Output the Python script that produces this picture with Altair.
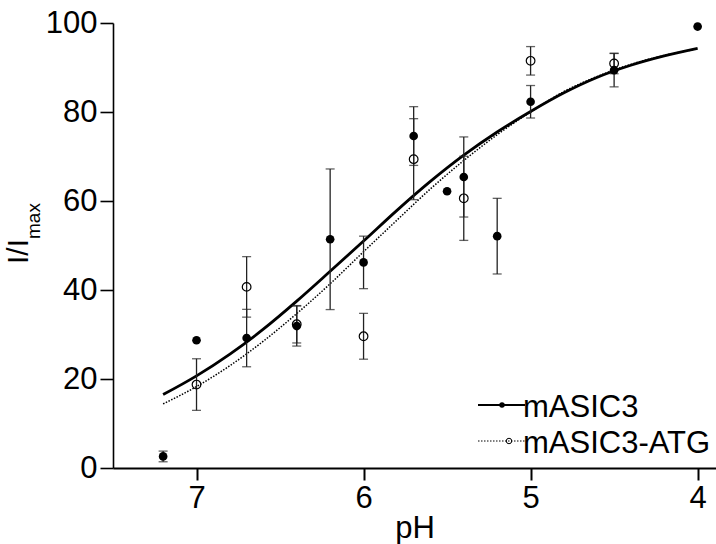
import altair as alt
import pandas as pd

FONT = "Liberation Sans"

# ---- data ----
ph_filled = [7.2, 7.0, 6.7, 6.4, 6.2, 6.0, 5.7, 5.5, 5.4, 5.2, 5.0, 4.5, 4.0]
val_filled = [2.6, 28.7, 29.2, 31.9, 51.4, 46.2, 74.6, 62.2, 65.4, 52.1, 82.3, 89.4, 99.2]
err_filled = [1.2, 0, 6.45, 4.5, 15.8, 5.9, 6.6, 0, 9.0, 8.5, 3.65, 3.75, 0]

ph_open = [7.0, 6.7, 6.4, 6.0, 5.7, 5.4, 5.0, 4.5]
val_open = [18.75, 40.7, 32.3, 29.6, 69.4, 60.6, 91.5, 90.9]
err_open = [5.8, 6.8, 4.2, 5.15, 9.1, 9.45, 3.2, 2.3]

ph_curve = [7.2, 7.0, 6.8, 6.6, 6.4, 6.2, 6.0, 5.8, 5.6, 5.4, 5.2, 5.0, 4.8, 4.6, 4.4, 4.2, 4.0]
fit_mASIC3 = [16.5, 20.7, 25.6, 31.2, 37.5, 44.2, 51.0, 57.9, 64.4, 70.3, 75.5, 80.1, 84.3, 87.8, 90.5, 92.6, 94.3]
fit_ATG = [14.4, 18.3, 23.0, 28.5, 34.7, 41.4, 48.6, 55.7, 62.7, 69.1, 74.9, 80.0, 84.6, 88.0, 90.7, 92.7, 94.2]

series_labels = ["mASIC3", "mASIC3-ATG"]
x_ticks = [7, 6, 5, 4]
y_ticks = [0, 20, 40, 60, 80, 100]

# ---- tables ----
filled = pd.DataFrame({"pH": ph_filled, "v": val_filled, "e": err_filled})
opn = pd.DataFrame({"pH": ph_open, "v": val_open, "e": err_open})
curves = pd.DataFrame({"pH": ph_curve, "a": fit_mASIC3, "b": fit_ATG})

def err_table(df):
    d = df[df["e"] > 0].copy()
    d["lo"] = d["v"] - d["e"]
    d["hi"] = d["v"] + d["e"]
    return d

err_all = pd.concat([err_table(filled), err_table(opn)], ignore_index=True)
caps = pd.concat([
    pd.DataFrame({"pH": err_all["pH"], "c": err_all["lo"]}),
    pd.DataFrame({"pH": err_all["pH"], "c": err_all["hi"]}),
], ignore_index=True)

xs = alt.Scale(domain=[3.89, 7.5], reverse=True, nice=False, zero=False)
ys = alt.Scale(domain=[0, 100], nice=False, zero=True)

xaxis = alt.Axis(values=x_ticks, format="d", title="pH", grid=False,
                 labelFont=FONT, labelFontSize=31, labelColor="black", labelPadding=3,
                 titleFont=FONT, titleFontSize=31, titleFontWeight="normal", titleColor="black",
                 titlePadding=0, tickSize=12, tickWidth=2, tickColor="black",
                 domainWidth=2, domainColor="black")
yaxis = alt.Axis(values=y_ticks, format="d", title=None, grid=False,
                 labelFont=FONT, labelFontSize=31, labelColor="black", labelPadding=3,
                 tickSize=13, tickWidth=1.6, tickColor="black",
                 domainWidth=1.6, domainColor="black")

def X(f):
    return alt.X(f, type="quantitative", scale=xs, axis=xaxis)

def Y(f):
    return alt.Y(f, type="quantitative", scale=ys, axis=yaxis)

line_a = alt.Chart(curves).mark_line(color="black", strokeWidth=2.8, interpolate="monotone").encode(
    x=X("pH"), y=Y("a"))
line_b = alt.Chart(curves).mark_line(color="black", strokeWidth=1.5, strokeDash=[1.5, 1.5],
                                     interpolate="monotone").encode(x=X("pH"), y=Y("b"))

err_rules = alt.Chart(err_all).mark_rule(color="#222222", strokeWidth=1.3).encode(
    x=X("pH"), y=Y("lo"), y2="hi")
err_caps = alt.Chart(caps).mark_tick(orient="horizontal", size=9, thickness=1.3, color="#222222").encode(
    x=X("pH"), y=Y("c"))

pts_open = alt.Chart(opn).mark_point(shape="circle", filled=False, size=75, strokeWidth=1.2,
                                     color="black", opacity=1).encode(x=X("pH"), y=Y("v"))
pts_filled = alt.Chart(filled).mark_circle(size=75, color="black", opacity=1).encode(
    x=X("pH"), y=Y("v"))

one = pd.DataFrame({"k": [0]})

# legend (drawn by hand)
leg_rule1 = alt.Chart(one).mark_rule(color="black", strokeWidth=2).encode(
    x=alt.value(365), x2=alt.value(412), y=alt.value(382))
leg_dot1 = alt.Chart(one).mark_circle(size=30, color="black", opacity=1).encode(
    x=alt.value(389), y=alt.value(382))
leg_txt1 = alt.Chart(one).mark_text(align="left", baseline="alphabetic", font=FONT, fontSize=31,
                                    color="black").encode(
    x=alt.value(410), y=alt.value(394), text=alt.value(series_labels[0]))
leg_rule2 = alt.Chart(one).mark_rule(color="black", strokeWidth=1.2, strokeDash=[1.5, 1.5]).encode(
    x=alt.value(365), x2=alt.value(412), y=alt.value(418))
leg_dot2 = alt.Chart(one).mark_point(shape="circle", filled=False, size=30, strokeWidth=1,
                                     color="black", opacity=1).encode(
    x=alt.value(396), y=alt.value(418))
leg_txt2 = alt.Chart(one).mark_text(align="left", baseline="alphabetic", font=FONT, fontSize=31,
                                    color="black").encode(
    x=alt.value(410), y=alt.value(430), text=alt.value(series_labels[1]))

# y title  I/I_max
ytitle_main = alt.Chart(one).mark_text(align="right", baseline="alphabetic", angle=270, font=FONT,
                                       fontSize=30, color="black").encode(
    x=alt.value(-85), y=alt.value(216), text=alt.value("I/I"))
ytitle_sub = alt.Chart(one).mark_text(align="left", baseline="alphabetic", angle=270, font=FONT,
                                      fontSize=19, color="black").encode(
    x=alt.value(-73), y=alt.value(216), text=alt.value("max"))

chart = alt.layer(
    line_b, line_a, err_rules, err_caps, pts_open, pts_filled,
    leg_rule1, leg_dot1, leg_txt1, leg_rule2, leg_dot2, leg_txt2,
    ytitle_main, ytitle_sub,
).properties(
    width=603, height=445,
    autosize=alt.AutoSizeParams(type="none"),
    padding={"left": 113, "top": 23, "right": 0, "bottom": 76},
    background="white",
).configure_view(stroke=None)

chart.save("out.html", embed_options={"renderer": "svg", "actions": False})
